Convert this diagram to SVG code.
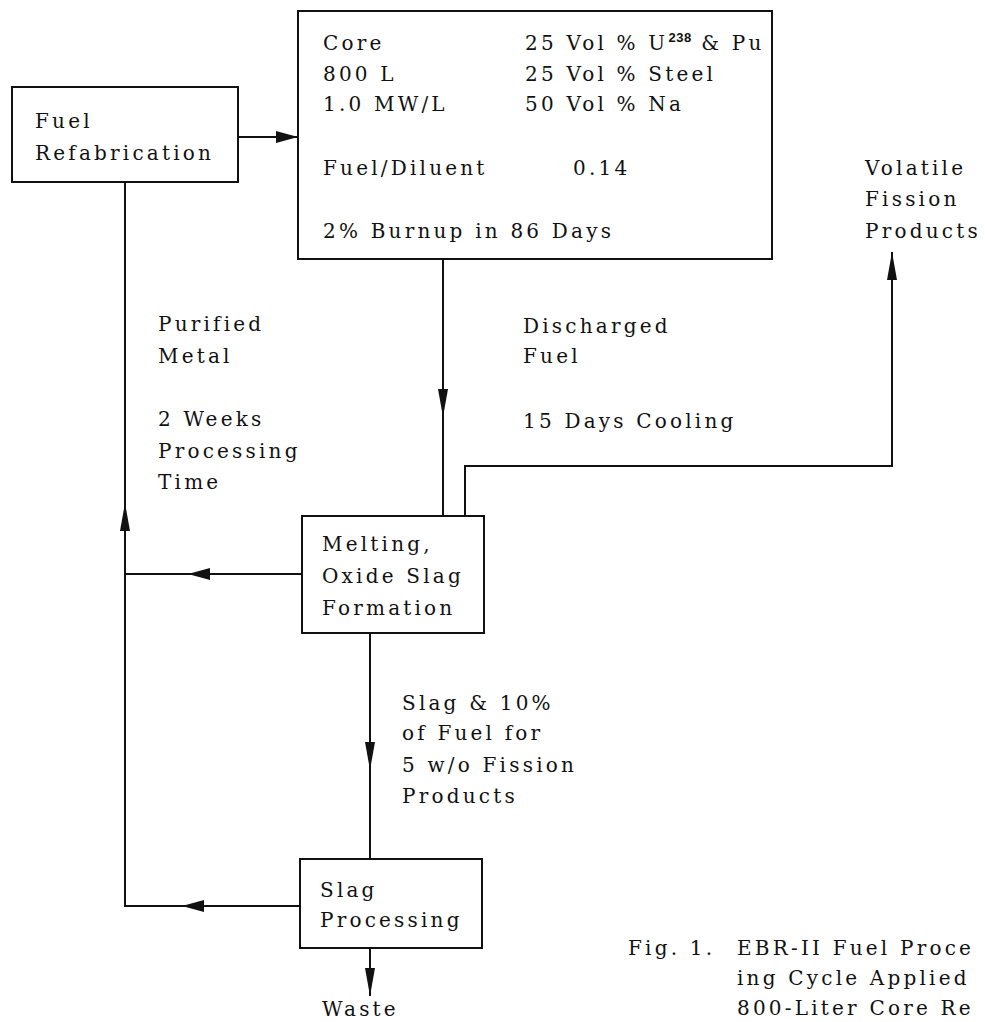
<svg xmlns="http://www.w3.org/2000/svg" width="985" height="1022" viewBox="0 0 985 1022">
  <style>
    .box { fill: #fff; stroke: #111; stroke-width: 2; }
    .ln { fill: none; stroke: #111; stroke-width: 2; }
    .t { font-family: "DejaVu Serif", "Liberation Serif", serif; font-size: 20px; letter-spacing: 3.2px; fill: #111; }
    .sup { font-family: "Liberation Sans", Arial, sans-serif; font-weight: bold; font-size: 13px; letter-spacing: 0.5px; }
  </style>
  <defs>
    <marker id="ah" markerUnits="userSpaceOnUse" markerWidth="22" markerHeight="12" refX="22" refY="6" orient="auto">
      <path d="M0,0 L22,6 L0,12 Z" fill="#111"/>
    </marker>
    <marker id="av" markerUnits="userSpaceOnUse" markerWidth="28" markerHeight="10" refX="28" refY="5" orient="auto">
      <path d="M0,0 L28,5 L0,10 Z" fill="#111"/>
    </marker>
  </defs>
  <rect width="985" height="1022" fill="#fff"/>

  <!-- flow lines -->
  <g id="connectors">
    <!-- refabricated fuel back to core -->
    <path class="ln" d="M238,137 H298" marker-end="url(#ah)"/>
    <!-- discharged fuel down to melting -->
    <path class="ln" d="M443,259 V417" marker-end="url(#av)"/>
    <path class="ln" d="M443,415 V516"/>
    <!-- volatile fission products off-gas -->
    <path class="ln" d="M465,516 V466 H892 V252" marker-end="url(#av)"/>
    <!-- melting to purified metal return -->
    <path class="ln" d="M302,574 H188" marker-end="url(#ah)"/>
    <path class="ln" d="M190,574 H125"/>
    <!-- slag down to slag processing -->
    <path class="ln" d="M370,633 V770" marker-end="url(#av)"/>
    <path class="ln" d="M370,768 V859"/>
    <!-- slag processing return -->
    <path class="ln" d="M300,906 H182" marker-end="url(#ah)"/>
    <path class="ln" d="M184,906 H125 V503" marker-end="url(#av)"/>
    <path class="ln" d="M125,505 V182"/>
    <!-- waste -->
    <path class="ln" d="M370,948 V996" marker-end="url(#av)"/>
  </g>

  <g id="fuel-refabrication">
    <rect class="box" x="12" y="87" width="226" height="95"/>
    <text class="t" x="35" y="128">Fuel</text>
    <text class="t" x="35" y="160">Refabrication</text>
  </g>

  <g id="core">
    <rect class="box" x="298" y="11" width="474" height="248"/>
    <text class="t" x="323" y="50">Core</text>
    <text class="t" x="323" y="81">800 L</text>
    <text class="t" x="323" y="111">1.0 MW/L</text>
    <text class="t" x="525" y="50">25 Vol % U<tspan class="sup" dy="-8">238</tspan><tspan dy="8"> &amp; Pu</tspan></text>
    <text class="t" x="525" y="81">25 Vol % Steel</text>
    <text class="t" x="525" y="111">50 Vol % Na</text>
    <text class="t" x="323" y="175">Fuel/Diluent</text>
    <text class="t" x="573" y="175">0.14</text>
    <text class="t" x="323" y="238">2% Burnup in 86 Days</text>
  </g>

  <g id="melting">
    <rect class="box" x="302" y="516" width="182" height="117"/>
    <text class="t" x="322" y="551">Melting,</text>
    <text class="t" x="322" y="583">Oxide Slag</text>
    <text class="t" x="322" y="615">Formation</text>
  </g>

  <g id="slag-processing">
    <rect class="box" x="300" y="859" width="182" height="89"/>
    <text class="t" x="320" y="897">Slag</text>
    <text class="t" x="320" y="927">Processing</text>
  </g>

  <g id="volatile-products">
    <text class="t" x="865" y="175">Volatile</text>
    <text class="t" x="865" y="206">Fission</text>
    <text class="t" x="865" y="238">Products</text>
  </g>

  <g id="waste">
    <text class="t" x="322" y="1016">Waste</text>
  </g>

  <g id="labels">
    <text class="t" x="158" y="331">Purified</text>
    <text class="t" x="158" y="363">Metal</text>
    <text class="t" x="158" y="426">2 Weeks</text>
    <text class="t" x="158" y="458">Processing</text>
    <text class="t" x="158" y="489">Time</text>

    <text class="t" x="523" y="333">Discharged</text>
    <text class="t" x="523" y="363">Fuel</text>
    <text class="t" x="523" y="428">15 Days Cooling</text>

    <text class="t" x="402" y="710">Slag &amp; 10%</text>
    <text class="t" x="402" y="740">of Fuel for</text>
    <text class="t" x="402" y="772">5 w/o Fission</text>
    <text class="t" x="402" y="803">Products</text>
  </g>

  <g id="caption">
    <text class="t" x="628" y="955">Fig. 1.</text>
    <text class="t" x="737" y="955">EBR-II Fuel Proce</text>
    <text class="t" x="737" y="985">ing Cycle Applied</text>
    <text class="t" x="737" y="1015">800-Liter Core Re</text>
  </g>
</svg>
